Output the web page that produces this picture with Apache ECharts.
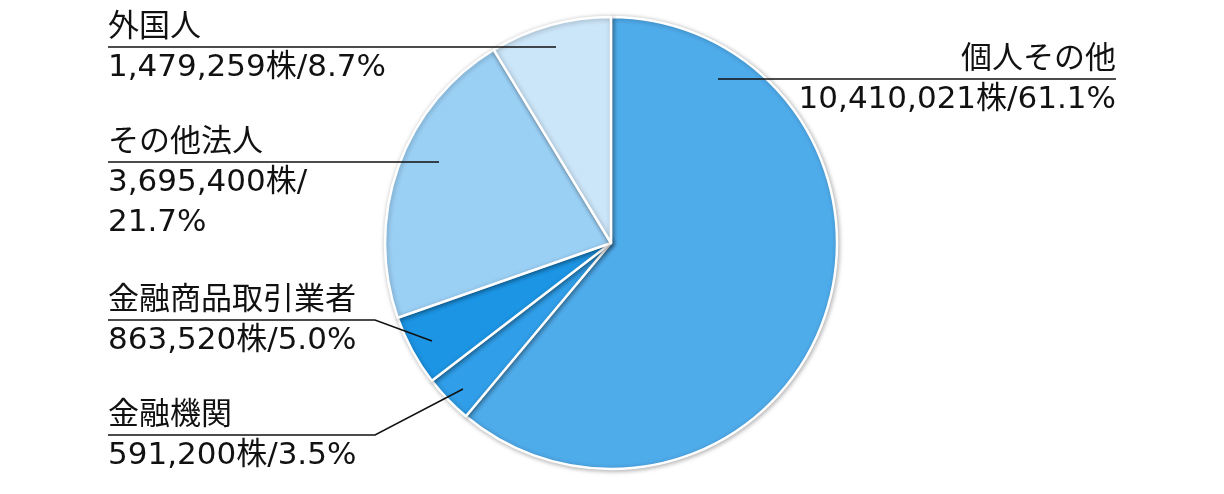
<!DOCTYPE html>
<html>
<head>
<meta charset="utf-8">
<script src="https://cdn.jsdelivr.net/npm/echarts@6/dist/echarts.min.js"></script>
<style>
  html, body { margin: 0; padding: 0; background: #fff; }
  #chart { width: 1224px; height: 494px; }
</style>
</head>
<body>
<div id="chart"></div>
<script>
// 株主分布（所有者別）
const categories = ['個人その他', '金融機関', '金融商品取引業者', 'その他法人', '外国人']
const shares = [10410021, 591200, 863520, 3695400, 1479259]
const percents = ['61.1', '3.5', '5.0', '21.7', '8.7']
const colors = ['#4FACEB', '#309EE8', '#1C95E5', '#9BD0F5', '#CCE6F9']
// ラベルを2段に折り返す項目
const wrapNames = ['その他法人']

// ラベル位置（下線のy座標、引き出し線の点）
const labelPos = [
  { align: 'right', x: 1116, uy: 79, pts: [[718, 79], [900, 79], [1116, 79]] },
  { align: 'left', x: 108, uy: 435, pts: [[463, 389], [375, 435], [108, 435]] },
  { align: 'left', x: 108, uy: 320, pts: [[432, 341], [375, 320], [108, 320]] },
  { align: 'left', x: 108, uy: 162, pts: [[439, 162], [300, 162], [108, 162]] },
  { align: 'left', x: 108, uy: 47, pts: [[556, 47], [300, 47], [108, 47]] }
]

const chart = echarts.init(document.getElementById('chart'))

const pieBase = {
  type: 'pie',
  center: [611, 243],
  radius: 226,
  startAngle: 90,
  clockwise: true,
  avoidLabelOverlap: false,
  emphasis: { disabled: true }
}

// 扇形
const sectorSeries = Object.assign({}, pieBase, {
  z: 2,
  itemStyle: {
    borderColor: '#fff',
    borderWidth: 2.5,
    shadowBlur: 5,
    shadowOffsetX: 1,
    shadowOffsetY: 1,
    shadowColor: 'rgba(0,0,0,0.3)'
  },
  label: { show: false },
  labelLine: { show: false },
  data: categories.map((name, i) => {
    return { name: name, value: shares[i], itemStyle: { color: colors[i] } }
  })
})

// ラベルと引き出し線（扇形の上に描く）
const labelSeries = Object.assign({}, pieBase, {
  z: 3,
  silent: true,
  itemStyle: { color: 'transparent', borderWidth: 0 },
  label: {
    show: true,
    position: 'outside',
    color: '#111',
    fontFamily: '"DejaVu Sans", "Noto Sans CJK JP", sans-serif',
    fontSize: 31,
    lineHeight: 40,
    formatter: function (p) {
      const sep = wrapNames.indexOf(p.name) >= 0 ? '株/\n' : '株/'
      return p.name + '\n' + p.value.toLocaleString('en-US') + sep + percents[p.dataIndex] + '%'
    }
  },
  labelLine: {
    show: true,
    lineStyle: { color: '#111', width: 1.5 }
  },
  labelLayout: function (params) {
    const lp = labelPos[params.dataIndex]
    return {
      x: lp.x,
      y: lp.uy - 39,
      align: lp.align,
      verticalAlign: 'top',
      labelLinePoints: lp.pts
    }
  },
  data: categories.map((name, i) => {
    return { name: name, value: shares[i], label: { align: labelPos[i].align } }
  })
})

chart.setOption({
  animation: false,
  series: [sectorSeries, labelSeries]
})
</script>
</body>
</html>
